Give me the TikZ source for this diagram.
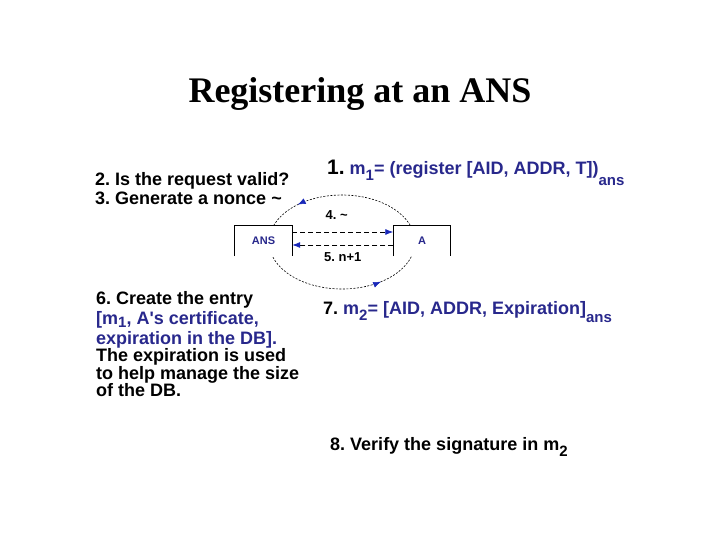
\documentclass[tikz,border=0pt]{standalone}
\usepackage{fontspec}
\setmainfont{Liberation Sans}
\newfontfamily\titlefont{Liberation Serif}
\usetikzlibrary{arrows.meta}
\usetikzlibrary{decorations.markings, math}
\definecolor{ansblue}{RGB}{40,40,140}
\definecolor{tipblue}{RGB}{25,40,185}
\newcommand{\lowsub}[2][6pt]{\raisebox{-#1}[0pt][0pt]{\fontsize{15}{15}\selectfont #2}}
\frenchspacing

\begin{document}
\begin{tikzpicture}[x=1pt,y=1pt,
  txt/.style={inner sep=0, font=\bfseries\fontsize{18}{#1}\selectfont, align=left},
  txt/.default=18.5,
  box/.style={fill=white, inner sep=0, minimum width=57, minimum height=30,
    text=ansblue, font=\bfseries\fontsize{11}{11}\selectfont},
  bluetip/.style={-{Latex[color=tipblue,length=8pt,width=6pt]}},
  msg/.style={dash pattern=on 5pt off 3pt, line width=0.8pt},
  lbl/.style={inner sep=0, font=\bfseries\fontsize{13}{13}\selectfont}
]

\tikzmath{
\cx = 342;
\cy = -242;
\rx = 73; % half width of the loop
\ry = 47;
}

\useasboundingbox (0,0) rectangle (720,-540);

%title:
\node[font=\titlefont\bfseries\fontsize{36}{36}\selectfont, anchor=base] (title) at (360,-103) {Registering at an ANS};

%loop between ANS and A:
\coordinate (C) at (\cx,\cy);
\draw[dash pattern=on 2pt off 1.5pt, line width=0.6pt, postaction={decorate},
  decoration={markings,
    mark=at position 0.37 with {\arrow{Latex[color=tipblue,length=8pt,width=6pt]}},
    mark=at position 0.855 with {\arrow{Latex[color=tipblue,length=8pt,width=6pt]}}}]
  (C) ellipse [x radius=\rx, y radius=\ry];

%boxes, open at the bottom:
\node[box] (ANS) at (263.5,-241) {ANS};
\node[box] (A) at (422,-241) {A};
\foreach \b in {ANS, A}
  \draw[line width=0.7pt] (\b.south west) -- (\b.north west) -- (\b.north east) -- (\b.south east);

%nonce exchange:
\draw[msg, bluetip] ([yshift=9]ANS.east) -- ([yshift=9]A.west) node[lbl, pos=0.44, above=12pt] (n4) {4. \textasciitilde};
\draw[msg, bluetip] ([yshift=-4]A.west) -- ([yshift=-4]ANS.east) node[lbl, midway, below=7pt] (n5) {5. n+1};

%steps:
\node[txt=19, anchor=north west] (check) at (95,-172.5) {2. Is the request valid?\\3. Generate a nonce \textasciitilde};
\node[txt, anchor=base west] (m1) at (327,-175) {{\fontsize{21}{21}\selectfont 1.}\ \textcolor{ansblue}{m\lowsub{1}= (register [AID, ADDR, T])\lowsub[11pt]{ans}}};
\node[txt=17.5, anchor=north west] (entry) at (96,-291) {6. Create the entry\\[2.5pt]
  \textcolor{ansblue}{[m\lowsub[3.5pt]{1}, A\textquotesingle s certificate,}\\[2.5pt]
  \textcolor{ansblue}{expiration in the DB].}\\
  The expiration is used\\
  to help manage the size\\
  of the DB.};
\node[txt, anchor=base west] (m2) at (323,-314) {7.\ \textcolor{ansblue}{m\lowsub{2}= [AID, ADDR, Expiration]\lowsub[8pt]{ans}}};
\node[txt, anchor=base west] (verify) at (330,-450) {8. Verify the signature in m\lowsub{2}};

\end{tikzpicture}
\end{document}
